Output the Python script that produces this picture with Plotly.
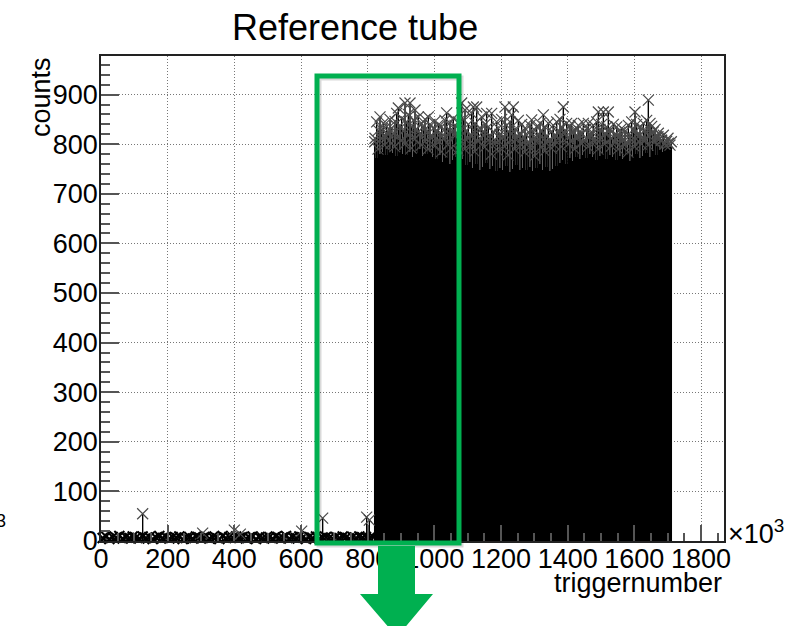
import plotly.graph_objects as go

# ---------------- data (trigger number in units of 10^3) ----------------
low_start, low_step = 5, 10
low_counts = [6, 9, 4, 8, 7, 10, 5, 8, 6, 9,
              7, 5, 9, 6, 8, 4, 7, 10, 6, 8,
              5, 8, 7, 9, 4, 6, 8, 5, 9, 7,
              6, 9, 5, 8, 7, 4, 10, 6, 8, 7,
              9, 6, 8, 5, 7, 9, 4, 8, 6, 7,
              8, 5, 9, 6, 7, 10, 5, 8, 6, 9,
              7, 4, 8, 6, 9, 5, 7, 8, 6, 5,
              8, 6, 9, 7, 5, 8, 6, 9, 7, 8,
              6, 9]
low_spike_x = [125, 305, 400, 418, 602, 665, 797, 805]
low_spike_counts = [55, 16, 22, 14, 20, 46, 48, 42]

body_start, body_step = 825, 10
body_counts = [772, 780, 785, 778, 790, 782, 776, 788, 781,
               779, 785, 774, 783, 790, 777, 781, 786, 775,
               770, 778, 765, 772, 760, 768, 775, 762, 770,
               758, 765, 752, 760, 748, 755, 762, 750, 757,
               745, 752, 748, 756, 744, 750, 758, 747, 753,
               749, 755, 746, 752, 760, 748, 754, 745, 751,
               757, 762, 768, 760, 772, 766, 775, 770, 778,
               772, 780, 775, 768, 776, 782, 770, 778, 774,
               768, 776, 771, 779, 766, 774, 780, 772, 777,
               782, 775, 786, 779, 790, 784, 792, 795]

spike_start, spike_step = 822, 5
spike_counts = [812, 845, 828, 855, 830, 842, 818, 836, 825, 850,
                833, 820, 846, 862, 873, 838, 852, 827, 883, 845,
                860, 883, 836, 848, 869, 830, 855, 822, 842, 835,
                850, 826, 855, 840, 818, 832, 846, 828, 839, 820,
                835, 812, 848, 863, 830, 843, 825, 852, 838, 820,
                845, 830, 883, 850, 869, 828, 840, 818, 862, 875,
                842, 875, 830, 812, 855, 826, 840, 862, 835, 818,
                862, 825, 808, 845, 832, 820, 850, 815, 875, 838,
                826, 845, 859, 875, 830, 812, 848, 822, 840, 815,
                832, 818, 805, 838, 849, 825, 812, 835, 820, 842,
                828, 859, 835, 815, 842, 810, 826, 838, 818, 845,
                822, 850, 835, 875, 828, 842, 815, 836, 842, 825,
                830, 815, 838, 826, 820, 842, 808, 832, 842, 818,
                825, 838, 812, 845, 865, 830, 840, 865, 822, 835,
                865, 828, 812, 840, 820, 835, 815, 824, 832, 810,
                826, 805, 838, 818, 845, 830, 865, 840, 822, 835,
                812, 842, 828, 848, 889, 842, 836, 825, 830, 815,
                822, 812, 808, 818, 800, 806, 802, 798]

mid_start, mid_step = 821, 10
mid_counts = [805, 790, 812, 798, 820, 802, 795, 815, 808,
              800, 818, 792, 810, 825, 798, 806, 790, 812,
              796, 808, 785, 815, 800, 792, 820, 788, 804,
              790, 812, 798, 785, 806, 830, 794, 808, 780,
              800, 786, 812, 795, 778, 808, 790, 815, 798,
              784, 802, 790, 776, 810, 795, 786, 805, 792,
              798, 812, 795, 820, 800, 806, 790, 815, 802,
              808, 795, 818, 804, 790, 812, 800, 825, 796,
              805, 790, 812, 798, 784, 808, 795, 815, 800,
              810, 798, 820, 805, 815, 808, 800, 812, 805]

x_ticks = [0, 200, 400, 600, 800, 1000, 1200, 1400, 1600, 1800]
y_ticks = [0, 100, 200, 300, 400, 500, 600, 700, 800, 900]

low_x = [low_start + i * low_step for i in range(len(low_counts))]
body_x = [body_start + i * body_step for i in range(len(body_counts))]
spike_x = [spike_start + i * spike_step for i in range(len(spike_counts))]
mid_x = [mid_start + i * mid_step for i in range(len(mid_counts))]

# ---------------- layout geometry (pixels) ----------------
W, H = 786, 626
L, R, T, B = 101, 62, 56, 85
PW, PH = W - L - R, H - T - B


def px(xp):
    return (xp - L) / PW


def py(yp):
    return (H - B - yp) / PH


FONT = "Liberation Sans, Arial, Helvetica, sans-serif"
GREEN = "#00B050"

fig = go.Figure()

# dense body
fig.add_trace(go.Bar(x=body_x, y=body_counts, width=body_step,
                     marker=dict(color="black", line=dict(width=0)),
                     hoverinfo="skip"))


def stems(xs, ys):
    sx, sy = [], []
    for a, b in zip(xs, ys):
        sx += [a, a, None]
        sy += [0, b, None]
    return sx, sy


all_x = low_x + low_spike_x + spike_x + mid_x
all_y = low_counts + low_spike_counts + spike_counts + mid_counts
sx, sy = stems(all_x, all_y)
fig.add_trace(go.Scatter(x=sx, y=sy, mode="lines",
                         line=dict(color="black", width=1.4),
                         hoverinfo="skip", cliponaxis=True))

fig.add_trace(go.Scatter(x=low_x, y=low_counts, mode="markers",
                         marker=dict(symbol="x-thin-open", size=10, color="black",
                                     line=dict(color="black", width=2)),
                         cliponaxis=False, hoverinfo="skip"))
fig.add_trace(go.Scatter(x=low_spike_x + spike_x + mid_x,
                         y=low_spike_counts + spike_counts + mid_counts,
                         mode="markers",
                         marker=dict(symbol="x-thin-open", size=11, color="#4a4a4a",
                                     line=dict(color="#4a4a4a", width=1.2)),
                         cliponaxis=False, hoverinfo="skip"))

axis_common = dict(
    showline=True, linecolor="#222", linewidth=1.5, mirror=True,
    ticks="inside", tickcolor="#555", tickwidth=1.5,
    showgrid=True, gridcolor="#777", griddash="1px,2px", gridwidth=1,
    zeroline=False,
    tickfont=dict(family=FONT, size=27, color="black"),
)

fig.update_xaxes(range=[0, PW * 3], tickmode="array", tickvals=x_ticks,
                 ticktext=[str(v) for v in x_ticks], ticklen=16,
                 ticklabelstandoff=-7,
                 minor=dict(dtick=50, tick0=0, ticks="inside", ticklen=8,
                            tickcolor="#555", showgrid=False),
                 **axis_common)
fig.update_yaxes(range=[0, PH / 0.496], tickmode="array", tickvals=y_ticks,
                 ticktext=[str(v) for v in y_ticks], ticklen=18,
                 ticklabelstandoff=-4,
                 minor=dict(dtick=20, tick0=0, ticks="inside", ticklen=9,
                            tickcolor="#555", showgrid=False),
                 **axis_common)

shapes = [
    # shadow of rectangle
    dict(type="rect", xref="paper", yref="paper",
         x0=px(319), x1=px(461), y0=py(545), y1=py(78),
         line=dict(color="rgba(0,0,0,0.15)", width=5), layer="above"),
    dict(type="rect", xref="paper", yref="paper",
         x0=px(317), x1=px(459), y0=py(543), y1=py(76),
         line=dict(color=GREEN, width=5), layer="above"),
]
arrow_pts = [(378, 546), (415, 546), (415, 594), (433, 594), (397, 637),
             (360, 594), (378, 594)]
path = "M " + " L ".join(f"{px(a):.5f},{py(b):.5f}" for a, b in arrow_pts) + " Z"
shapes.append(dict(type="path", xref="paper", yref="paper", path=path,
                   fillcolor=GREEN, line=dict(width=0), layer="above"))

annotations = [
    dict(text="Reference tube", x=px(355), y=py(28), xref="paper", yref="paper",
         xanchor="center", yanchor="middle", showarrow=False,
         font=dict(family=FONT, size=36, color="black")),
    dict(text="counts", x=px(41), y=py(55), xref="paper", yref="paper",
         xanchor="center", yanchor="top", textangle=-90, showarrow=False,
         font=dict(family=FONT, size=27, color="black")),
    dict(text="triggernumber", x=px(724), y=py(583), xref="paper", yref="paper",
         xanchor="right", yanchor="middle", showarrow=False,
         font=dict(family=FONT, size=27, color="black")),
    dict(text="×10<sup>3</sup>", x=px(726), y=py(532), xref="paper", yref="paper",
         xanchor="left", yanchor="middle", showarrow=False,
         font=dict(family=FONT, size=27, color="black")),
    dict(text="3", x=px(8), y=py(521), xref="paper", yref="paper",
         xanchor="right", yanchor="middle", showarrow=False,
         font=dict(family=FONT, size=18, color="black")),
]

fig.update_layout(width=W, height=H, margin=dict(l=L, r=R, t=T, b=B, pad=0),
                  paper_bgcolor="white", plot_bgcolor="white",
                  showlegend=False, bargap=0, shapes=shapes,
                  annotations=annotations)

fig.write_html("out.html")
